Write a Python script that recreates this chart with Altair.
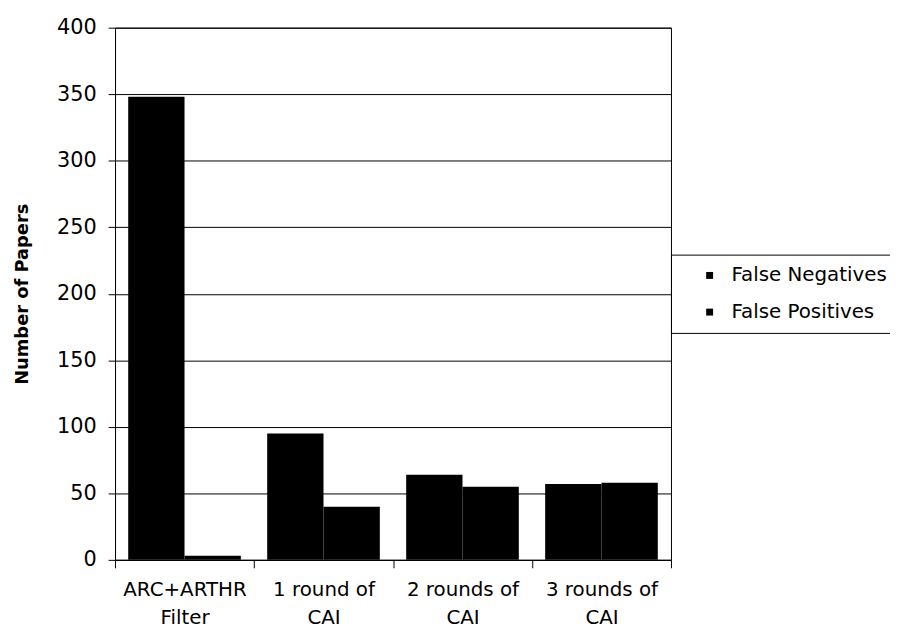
import altair as alt
import pandas as pd

categories = ["ARC+ARTHR|Filter", "1 round of|CAI", "2 rounds of|CAI", "3 rounds of|CAI"]
series = ["False Negatives", "False Positives"]
false_negatives = [348, 95, 64, 57]
false_positives = [3, 40, 55, 58]
y_ticks = [0, 50, 100, 150, 200, 250, 300, 350, 400]

rows = []
for c, fn, fp in zip(categories, false_negatives, false_positives):
    rows.append({"cat": c, "series": series[0], "value": fn})
    rows.append({"cat": c, "series": series[1], "value": fp})
df = pd.DataFrame(rows)

FONT = "DejaVu Sans"
W, H = 561, 537

chart = alt.Chart(df).mark_bar(color="black").encode(
    x=alt.X(
        "cat:N", sort=categories, title=None,
        scale=alt.Scale(paddingInner=0, paddingOuter=0),
        axis=alt.Axis(
            labelExpr="split(datum.label, '|')", labelAngle=0,
            tickBand="extent", domainColor="black", tickColor="black",
            tickSize=8, labelFont=FONT, labelFontSize=20, labelLineHeight=28,
            labelPadding=12, labelColor="black", grid=False,
        ),
    ),
    xOffset=alt.XOffset(
        "series:N", sort=series,
        scale=alt.Scale(paddingInner=0, paddingOuter=0.234),
    ),
    y=alt.Y(
        "value:Q", title="Number of Papers",
        scale=alt.Scale(domain=[0, 400], nice=False),
        axis=alt.Axis(
            values=y_ticks, grid=True, gridColor="black", gridOpacity=1,
            gridWidth=1, domainColor="black", tickColor="black", tickSize=7,
            labelFont=FONT, labelFontSize=21, labelPadding=12, labelColor="black",
            titleFont=FONT, titleFontSize=18, titleFontWeight="bold",
            titleColor="black", titleAngle=-90, titleX=-88, titleY=H / 2,
            titleBaseline="alphabetic", titleAlign="center",
        ),
    ),
    color=alt.Color(
        "series:N", sort=series,
        scale=alt.Scale(range=["black", "black"]),
        legend=alt.Legend(
            title=None, orient="none", legendX=W, legendY=229,
            strokeColor="black", padding=11, rowPadding=17,
            symbolType="square", symbolSize=49, symbolStrokeWidth=0,
            symbolOffset=18,
            labelFont=FONT, labelFontSize=20, labelColor="black", labelOffset=12,
        ),
    ),
).properties(
    width=W, height=H,
    autosize=alt.AutoSizeParams(type="none"),
    padding={"left": 108, "top": 17, "right": 221, "bottom": 76},
).configure_view(stroke="black", strokeWidth=1)

chart.save("out.html", embed_options={"renderer": "svg", "actions": False})
